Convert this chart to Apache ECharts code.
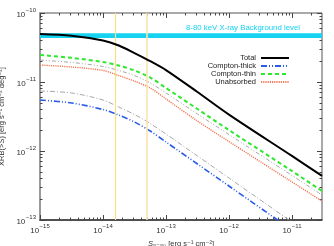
<!DOCTYPE html>
<html><head><meta charset="utf-8">
<script src="https://cdn.jsdelivr.net/npm/echarts@6/dist/echarts.min.js"></script>
<style>html,body{margin:0;padding:0;background:#fff}#c{width:334px;height:246px}</style>
</head><body><div id="c"></div>
<script>
// flux S (erg s^-1 cm^-2)
const S = [1e-15, 3.16e-15, 1e-14, 1.78e-14, 3.16e-14, 5.62e-14, 1e-13, 3.16e-13, 1e-12, 1e-11, 3e-11];
const total        = [4.97e-11, 4.68e-11, 3.99e-11, 3.38e-11, 2.63e-11, 2.01e-11, 1.49e-11, 7.16e-12, 3.37e-12, 8.48e-13, 4.35e-13];
const comptonThin  = [2.46e-11, 2.24e-11, 1.95e-11, 1.73e-11, 1.47e-11, 1.16e-11, 8.19e-12, 4.06e-12, 2.01e-12, 5.13e-13, 2.63e-13];
const greyUpper    = [2.08e-11, 1.92e-11, 1.68e-11, 1.47e-11, 1.24e-11, 9.68e-12, 6.94e-12, 3.44e-12, 1.73e-12, 4.42e-13, 2.30e-13];
const unabsorbed   = [1.76e-11, 1.65e-11, 1.47e-11, 1.24e-11, 1.03e-11, 8.19e-12, 5.68e-12, 2.72e-12, 1.37e-12, 3.56e-13, 1.88e-13];
const greyLower    = [7.41e-12, 6.94e-12, 5.48e-12, 4.34e-12, 3.38e-12, 2.50e-12, 1.76e-12, 8.48e-13, 4.06e-13, 9.35e-14, 4.65e-14];
const comptonThick = [5.48e-12, 4.97e-12, 3.99e-12, 3.32e-12, 2.63e-12, 1.95e-12, 1.35e-12, 6.48e-13, 3.11e-13, 7.16e-14, 3.56e-14];
const xrbBand = [4.35e-11, 5.1e-11];
const vLines = [1.55e-14, 5.0e-14];
const xMajor = [1e-15, 1e-14, 1e-13, 1e-12, 1e-11];
const yMajor = [1e-13, 1e-12, 1e-11, 1e-10];
const X_MIN = 1e-15, X_MAX = 3e-11, Y_MIN = 1e-13, Y_MAX = 1e-10;

function minors(lo, hi) {
  const out = [];
  for (let e = Math.floor(Math.log10(lo)); e <= Math.ceil(Math.log10(hi)); e++) {
    for (let m = 2; m <= 9; m++) {
      const v = m * Math.pow(10, e);
      if (v > lo && v < hi) out.push(v);
    }
  }
  return out;
}
const FONT = 'Liberation Sans';
const FONT2 = '"Liberation Sans", "DejaVu Sans", sans-serif';
const supRich = {
  b: {fontSize: 8, fontFamily: FONT, color: '#333', verticalAlign: 'bottom', lineHeight: 12},
  s: {fontSize: 6, fontFamily: FONT, color: '#333', verticalAlign: 'top', lineHeight: 12, padding: [0, 0, 0, 0.5]}
};
function fmt(v) {
  const e = Math.round(Math.log10(v));
  return '{b|10}{s|' + (e < 0 ? '\u2212' : '') + Math.abs(e) + '}';
}
function baseAxis(extra, lo, hi) {
  return Object.assign({
    type: 'log', logBase: 10, min: lo, max: hi,
    splitLine: {show: false}, axisLine: {show: false},
    axisLabel: {show: false}, axisTick: {show: false}
  }, extra);
}
function tickAxis(pos, lo, hi, vals, len) {
  return baseAxis({position: pos,
    axisTick: {show: true, inside: true, length: len, customValues: vals, lineStyle: {color: '#444', width: 1}}}, lo, hi);
}
const xName = '{it|S}{t|\u2088\u208B\u2088\u2080 [erg s\u207B\u00B9 cm\u207B\u00B2]}';
const yName = '{t|XRB(>}{it|S}{t|) [erg s\u207B\u00B9 cm\u207B\u00B2 deg\u207B\u00B2]}';
const nameRich = {
  t: {fontSize: 7.5, fontFamily: FONT2, color: '#333', lineHeight: 10},
  it: {fontStyle: 'italic', fontSize: 7.5, fontFamily: FONT2, color: '#333', lineHeight: 10}
};

const xAxes = [
  baseAxis({position: 'bottom',
    axisLine: {show: true, lineStyle: {color: '#333', width: 1.5}},
    axisTick: {show: true, inside: true, length: 5, customValues: xMajor, lineStyle: {color: '#444'}},
    axisLabel: {show: true, customValues: xMajor, formatter: fmt, rich: supRich, margin: 3},
    name: xName, nameLocation: 'middle', nameGap: 15,
    nameTextStyle: {fontSize: 7.5, fontFamily: FONT2, color: '#333', rich: nameRich}
  }, X_MIN, X_MAX),
  tickAxis('bottom', X_MIN, X_MAX, minors(X_MIN, X_MAX), 2.5),
  tickAxis('top', X_MIN, X_MAX, xMajor, 5),
  tickAxis('top', X_MIN, X_MAX, minors(X_MIN, X_MAX), 2.5)
];
const yAxes = [
  baseAxis({position: 'left',
    axisLine: {show: true, lineStyle: {color: '#999', width: 2}},
    axisTick: {show: true, inside: true, length: 5, customValues: yMajor, lineStyle: {color: '#444'}},
    axisLabel: {show: true, customValues: yMajor, formatter: fmt, rich: supRich, margin: 4},
    name: yName, nameLocation: 'middle', nameGap: 27,
    nameTextStyle: {fontSize: 7.5, fontFamily: FONT2, color: '#333', rich: nameRich}
  }, Y_MIN, Y_MAX),
  tickAxis('left', Y_MIN, Y_MAX, minors(Y_MIN, Y_MAX), 2.5),
  tickAxis('right', Y_MIN, Y_MAX, yMajor, 5),
  tickAxis('right', Y_MIN, Y_MAX, minors(Y_MIN, Y_MAX), 2.5)
];

function pts(ys) { return S.map((s, i) => [s, ys[i]]); }
function line(name, ys, color, width, type, z) {
  return {name: name, type: 'line', data: pts(ys), showSymbol: false, symbol: 'none',
    smooth: 0.3, clip: true, z: z || 3,
    lineStyle: {color: color, width: width, type: type}, itemStyle: {color: color}};
}

const series = [
  {name: 'refs', type: 'line', data: [], z: 1, silent: true,
    markArea: {silent: true, itemStyle: {color: '#14d2f0'},
      label: {show: true, position: 'top', offset: [62, 4], color: '#14d2f0', fontSize: 7.8, fontFamily: FONT,
        formatter: '8-80 keV X-ray Background level'},
      data: [[{yAxis: xrbBand[0], xAxis: X_MIN}, {yAxis: xrbBand[1], xAxis: X_MAX}]]},
    markLine: {silent: true, symbol: ['none', 'none'], label: {show: false},
      data: [
        [{coord: [vLines[0], Y_MIN], lineStyle: {color: '#f7e08a', width: 1.2, type: 'solid'}}, {coord: [vLines[0], Y_MAX]}],
        [{coord: [vLines[1], Y_MIN], lineStyle: {color: '#fbe5ae', width: 1.6, type: 'solid'}}, {coord: [vLines[1], Y_MAX]}]
      ]}
  },
  line('grey-upper', greyUpper, '#a8a8a8', 1, [4, 2, 1, 2, 1, 2]),
  line('grey-lower', greyLower, '#a8a8a8', 1, [5, 2, 1, 2]),
  line('Compton-thick', comptonThick, '#2a5be8', 1.6, [6, 2, 1, 2, 1, 2]),
  line('Unabsorbed', unabsorbed, '#f07a58', 1.4, [1.2, 1]),
  line('Compton-thin', comptonThin, '#2ee82e', 2, [4, 3]),
  line('Total', total, '#000000', 2, 'solid', 5)
];

const chart = echarts.init(document.getElementById('c'), null, {renderer: 'canvas'});
chart.setOption({
  animation: false,
  backgroundColor: '#fff',
  grid: {left: 40, right: 12, top: 13, bottom: 26, show: true, borderColor: '#555', borderWidth: 1,
    containLabel: false, outerBoundsMode: 'none'},
  xAxis: xAxes,
  yAxis: yAxes,
  legend: {
    data: ['Total', 'Compton-thick', 'Compton-thin', 'Unabsorbed'],
    orient: 'vertical', right: 44, top: 54, align: 'right',
    itemWidth: 28, itemHeight: 6, itemGap: 0, padding: 0,
    itemStyle: {opacity: 0},
    textStyle: {fontSize: 7.5, fontFamily: FONT, color: '#222', lineHeight: 7.4}
  },
  series: series
});
</script>
</body></html>
